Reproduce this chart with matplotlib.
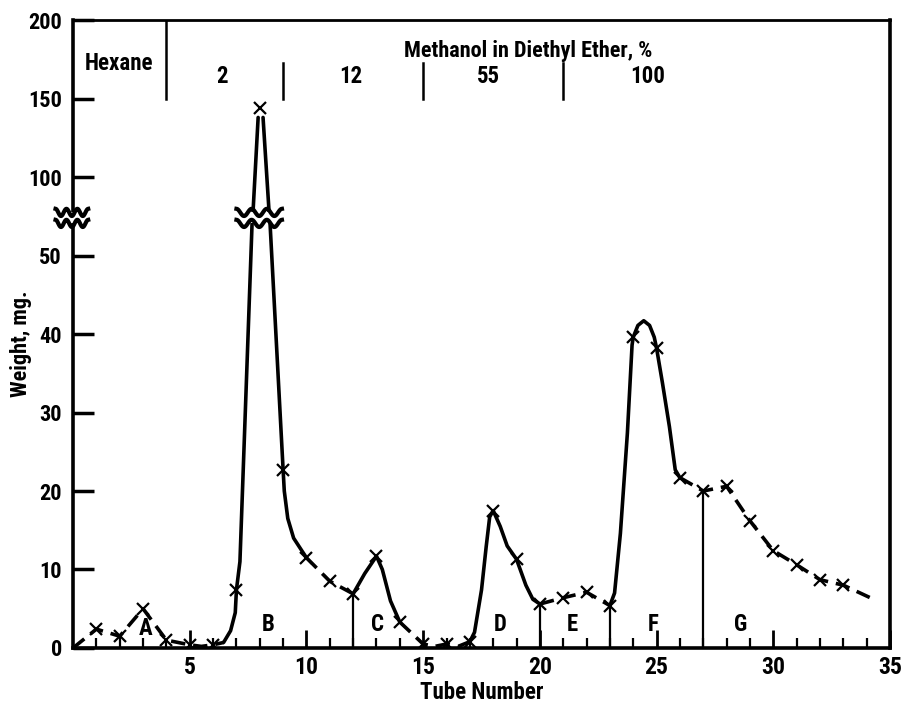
import numpy as np
import matplotlib
matplotlib.use("Agg")
import matplotlib.pyplot as plt

plt.rcParams['font.family'] = ['Roboto Condensed', 'Liberation Sans Narrow', 'DejaVu Sans']
plt.rcParams['font.stretch'] = 'condensed'
plt.rcParams['font.weight'] = 'bold'

# measured points (x markers)
tubes = np.arange(1, 34)
weights = [2.4, 1.5, 5.0, 1.0, 0.4, 0.4, 7.4, 144, 22.7, 11.5, 8.5, 6.9, 11.7, 3.3,
           0.5, 0.5, 0.8, 17.5, 11.3, 5.6, 6.4, 7.1, 5.4, 39.6, 38.2, 21.7, 20.0,
           20.6, 16.2, 12.4, 10.6, 8.7, 8.0]

# hand drawn curve (tube, mg)
solid_parts = [
    ([6.45, 6.75, 6.95, 7.0, 7.15, 7.67], [0.7, 2.2, 4.5, 7.4, 11.0, 70.5]),
    ([7.71, 7.93], [77.5, 138]),
    ([8.14, 8.40], [138, 77.5]),
    ([8.44, 9.0, 9.05, 9.2, 9.45, 9.8, 10.0], [70.5, 22.7, 20.0, 16.5, 14.0, 12.4, 11.5]),
    ([12.0, 12.5, 13.0, 13.25, 13.6, 14.0], [6.9, 9.5, 11.7, 10.0, 6.0, 3.3]),
    ([17.0, 17.2, 17.5, 17.7, 17.85, 18.0, 18.3, 18.6, 19.0, 19.4, 19.7, 20.0],
     [0.8, 2.0, 7.4, 12.9, 16.7, 17.5, 15.5, 13.0, 11.3, 8.0, 6.2, 5.6]),
    ([23.0, 23.2, 23.45, 23.75, 23.95, 24.0, 24.2, 24.45, 24.7, 24.9, 25.0, 25.25, 25.55, 25.8, 26.0],
     [5.4, 7.0, 14.6, 27.4, 38.6, 39.6, 41.1, 41.7, 41.1, 39.6, 38.2, 33.8, 28.2, 22.7, 21.7]),
]
dashed_parts = [
    ([0, 1, 2, 3, 4, 5, 5.5, 6, 6.45], [0, 2.4, 1.5, 5.0, 1.0, 0.4, 0.2, 0.4, 0.7]),
    ([10, 11, 12], [11.5, 8.5, 6.9]),
    ([14, 15, 15.5, 16, 16.5, 17], [3.3, 0.5, 0.2, 0.5, 0.2, 0.8]),
    ([20, 21, 22, 23], [5.6, 6.4, 7.1, 5.4]),
    ([26, 27, 28, 29, 30, 31, 32, 33, 34.3], [21.7, 20.0, 20.6, 16.2, 12.4, 10.6, 8.7, 8.0, 6.2]),
]

cut_tubes = [12, 20, 23, 27]
cut_heights = [6.9, 5.6, 5.4, 20.0]
fraction_labels = ['A', 'B', 'C', 'D', 'E', 'F', 'G']
fraction_x = [3.1, 8.35, 13.05, 18.3, 21.4, 24.85, 28.6]
fraction_y = [2.5, 3.0, 3.0, 3.0, 3.0, 3.0, 3.0]

solvent_labels = ['2', '12', '55', '100']
solvent_x = [6.4, 11.9, 17.8, 24.6]
solvent_dividers = [9, 15, 21]


def fwd(y):
    y = np.asarray(y, dtype=float)
    return np.where(y <= 50, y, 50 + (y - 50) / 5.0)


def inv(p):
    p = np.asarray(p, dtype=float)
    return np.where(p <= 50, p, 50 + (p - 50) * 5.0)


fig = plt.figure(figsize=(9.04, 7.07), dpi=100)
ax = fig.add_axes([0.0808, 0.0835, 0.9037, 0.888])
ax.set_yscale('function', functions=(fwd, inv))
ax.set_xlim(0, 35)
ax.set_ylim(0, 200)

lw = 2.6
for xs, ys in solid_parts:
    ax.plot(xs, ys, color='black', lw=lw, solid_capstyle='round', zorder=3)
for xs, ys in dashed_parts:
    ax.plot(xs, ys, color='black', lw=lw, dashes=(4, 2.2), dash_capstyle='butt', zorder=3)

ax.plot(tubes, weights, linestyle='none', marker='x', ms=8, mew=1.6, color='black', zorder=4)
for t, h in zip(cut_tubes, cut_heights):
    ax.plot([t, t], [0, h], color='black', lw=1.6, zorder=2)

for lab, x, y in zip(fraction_labels, fraction_x, fraction_y):
    ax.text(x, y, lab, ha='center', va='center', fontsize=16.5, fontweight='bold')


# axis-break zigzags
def zigzag(x0, x1, y0):
    xs = np.linspace(x0, x1, 80)
    ys = y0 + 2.3 * np.sin((xs - x0) / (x1 - x0) * 2 * np.pi * 3 + np.pi / 2)
    ax.plot(xs, ys, color='black', lw=3.0, clip_on=False, zorder=7)


for x0, x1 in [(-0.75, 0.65), (7.0, 8.95)]:
    xs = np.linspace(x0, x1, 10)
    ax.fill_between(xs, 71, 77.5, color='white', clip_on=False, zorder=6, lw=0)
    zigzag(x0, x1, 70.5)
    zigzag(x0, x1, 77.5)

# solvent annotations at the top
ax.plot([4, 4], [150, 200], color='black', lw=1.8)
ax.text(1.95, 172.5, 'Hexane', ha='center', va='center', fontsize=16.5, fontweight='bold')
ax.text(19.5, 180.5, 'Methanol in Diethyl Ether, %', ha='center', va='center',
        fontsize=16, fontweight='bold')
for lab, x in zip(solvent_labels, solvent_x):
    ax.text(x, 164, lab, ha='center', va='center', fontsize=16.5, fontweight='bold')
for x in solvent_dividers:
    ax.plot([x, x], [150, 172.5], color='black', lw=1.8)

ax.set_xticks([5, 10, 15, 20, 25, 30, 35])
ax.set_xticks(np.arange(1, 35), minor=True)
ax.set_yticks([0, 10, 20, 30, 40, 50, 100, 150, 200])
ax.tick_params(axis='x', which='major', direction='in', length=13, width=2, pad=6, labelsize=17)
ax.tick_params(axis='x', which='minor', direction='in', length=7, width=1.6)
ax.tick_params(axis='y', which='major', direction='in', length=15, width=2.5, pad=8, labelsize=16)
ax.tick_params(axis='y', which='minor', left=False)
for lab in ax.get_xticklabels() + ax.get_yticklabels():
    lab.set_fontweight('bold')
for s in ['left', 'bottom', 'right']:
    ax.spines[s].set_linewidth(2.6)
ax.spines['top'].set_linewidth(2.0)

ax.set_xlabel('Tube Number', fontsize=16.5, fontweight='bold', labelpad=1)
ax.set_ylabel('Weight, mg.', fontsize=16, fontweight='bold')
ax.yaxis.set_label_coords(-0.05, 0.485)

fig.savefig('out.png', dpi=100)
